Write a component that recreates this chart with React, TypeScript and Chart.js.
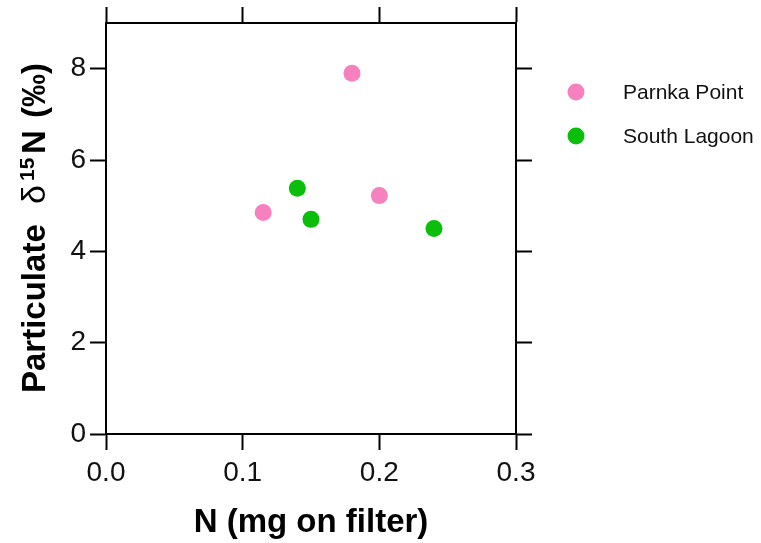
import React, { useEffect, useRef } from 'react';
import { Chart, registerables } from 'chart.js';

Chart.register(...registerables);

// ---- data ----
const parnkaX = [0.115, 0.18, 0.2];
const parnkaY = [4.85, 7.9, 5.22];
const southX = [0.14, 0.15, 0.24];
const southY = [5.38, 4.7, 4.5];
const seriesNames = ['Parnka Point', 'South Lagoon'];
const seriesColors = ['#F780BF', '#0BBE0B'];
const xTicks = [0, 0.1, 0.2, 0.3];
const yTicks = [0, 2, 4, 6, 8];
const xRange = [0, 0.3];
const yRange = [0, 9];
const xTitle = 'N (mg on filter)';
const yTitleParts = ['Particulate', 'δ', '15', 'N', '(‰)'];

const FAMILY = '"Liberation Sans", Arial, Helvetica, sans-serif';
const LINE_W = 2;

const annotPlugin = {
  id: 'annot',
  afterDraw(chart: any) {
    const ctx = chart.ctx as CanvasRenderingContext2D;
    const area = chart.chartArea;
    ctx.save();
    ctx.fillStyle = '#000';

    // x title
    ctx.font = `bold 33px ${FAMILY}`;
    ctx.textAlign = 'center';
    ctx.textBaseline = 'alphabetic';
    ctx.fillText(xTitle, (area.left + area.right) / 2, 532);

    // y title (rotated, with superscript)
    ctx.save();
    ctx.translate(45, 393);
    ctx.rotate(-Math.PI / 2);
    ctx.textAlign = 'left';
    ctx.textBaseline = 'alphabetic';
    ctx.font = `bold 33px ${FAMILY}`;
    ctx.fillText(yTitleParts[0], 0, 0);
    ctx.font = `34px ${FAMILY}`;
    ctx.fillText(yTitleParts[1], 189, 0);
    ctx.font = `bold 21px ${FAMILY}`;
    ctx.fillText(yTitleParts[2], 212, -11);
    ctx.font = `bold 33px ${FAMILY}`;
    ctx.fillText(yTitleParts[3], 239, 0);
    ctx.fillText(yTitleParts[4], 275, 0);
    ctx.restore();

    // legend
    const ly = [92, 136];
    ctx.font = `21px ${FAMILY}`;
    ctx.textAlign = 'left';
    ctx.textBaseline = 'middle';
    seriesNames.forEach((name, i) => {
      ctx.beginPath();
      ctx.arc(576, ly[i], 8.5, 0, Math.PI * 2);
      ctx.fillStyle = seriesColors[i];
      ctx.fill();
      ctx.fillStyle = '#111';
      ctx.fillText(name, 623, ly[i] + 1);
    });
    ctx.restore();
  },
};

function axisCommon(extra: any) {
  return {
    grid: {
      drawOnChartArea: false,
      drawTicks: true,
      tickLength: 16,
      tickColor: '#000',
      tickWidth: LINE_W,
    },
    border: { display: true, color: '#000', width: LINE_W },
    ...extra,
  };
}

export default function App() {
  const ref = useRef<HTMLCanvasElement | null>(null);

  useEffect(() => {
    if (!ref.current) return;
    const chart = new Chart(ref.current, {
      type: 'scatter',
      data: {
        datasets: [
          {
            label: seriesNames[0],
            data: parnkaX.map((x, i) => ({ x, y: parnkaY[i] })),
            backgroundColor: seriesColors[0],
            borderWidth: 0,
            pointRadius: 8.5,
            pointHoverRadius: 8.5,
          },
          {
            label: seriesNames[1],
            data: southX.map((x, i) => ({ x, y: southY[i] })),
            backgroundColor: seriesColors[1],
            borderWidth: 0,
            pointRadius: 8.5,
            pointHoverRadius: 8.5,
          },
        ],
      },
      options: {
        animation: false,
        responsive: false,
        devicePixelRatio: 1,
        events: [],
        layout: { padding: 0 },
        plugins: {
          legend: { display: false },
          tooltip: { enabled: false },
        },
        scales: {
          x: axisCommon({
            type: 'linear',
            position: 'bottom',
            min: xRange[0],
            max: xRange[1],
            afterBuildTicks: (s: any) => {
              s.ticks = xTicks.map((v) => ({ value: v }));
            },
            afterFit: (s: any) => {
              s.height = 109;
            },
            ticks: {
              color: '#111',
              font: { family: FAMILY, size: 28 },
              padding: 6,
              maxRotation: 0,
              callback: (v: any) => Number(v).toFixed(1),
            },
          }),
          x2: axisCommon({
            type: 'linear',
            position: 'top',
            min: xRange[0],
            max: xRange[1],
            afterBuildTicks: (s: any) => {
              s.ticks = xTicks.map((v) => ({ value: v }));
            },
            afterFit: (s: any) => {
              s.height = 23;
            },
            ticks: { display: false },
          }),
          y: axisCommon({
            type: 'linear',
            position: 'left',
            min: yRange[0],
            max: yRange[1],
            afterBuildTicks: (s: any) => {
              s.ticks = yTicks.map((v) => ({ value: v }));
            },
            afterFit: (s: any) => {
              s.width = 106;
            },
            ticks: {
              color: '#111',
              font: { family: FAMILY, size: 28 },
              padding: 4,
              callback: (v: any) => String(v),
            },
          }),
          y2: axisCommon({
            type: 'linear',
            position: 'right',
            min: yRange[0],
            max: yRange[1],
            afterBuildTicks: (s: any) => {
              s.ticks = yTicks.map((v) => ({ value: v }));
            },
            afterFit: (s: any) => {
              s.width = 245;
            },
            ticks: { display: false },
          }),
        },
      } as any,
      plugins: [annotPlugin],
    });
    return () => chart.destroy();
  }, []);

  return (
    <div style={{ position: 'fixed', left: 0, top: 0, width: 761, height: 543, background: '#fff' }}>
      <canvas ref={ref} width={761} height={543} style={{ width: 761, height: 543 }} />
    </div>
  );
}
